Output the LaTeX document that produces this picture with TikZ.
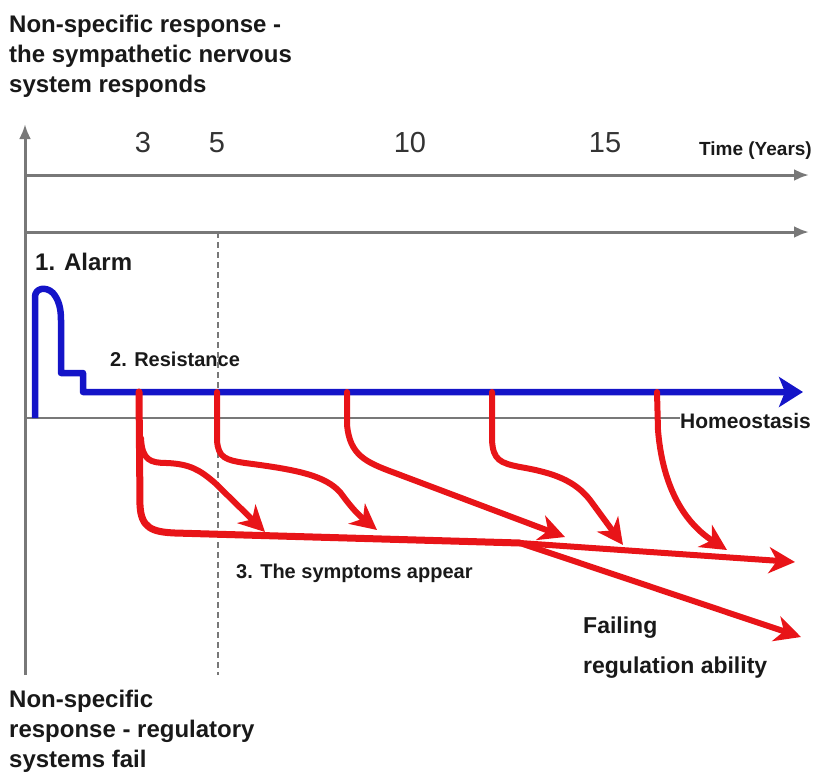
\documentclass[tikz,border=0pt]{standalone}
\usepackage{fontspec}
\setmainfont{Liberation Sans}
\usetikzlibrary{arrows.meta}

\definecolor{axisgray}{RGB}{120,120,120}
\definecolor{curvered}{RGB}{232,20,24}
\definecolor{curveblue}{RGB}{20,20,200}
\definecolor{inkblack}{RGB}{25,25,25}

\begin{document}
\begin{tikzpicture}[
  x=1pt, y=-1pt,
  every node/.style={inner sep=0pt, text=inkblack},
  lbl/.style={font=\bfseries\fontsize{24}{30}\selectfont, align=left},
  midlbl/.style={font=\bfseries\fontsize{20}{24}\selectfont},
  yearlbl/.style={font=\fontsize{29}{32}\selectfont, text=black!80},
  axis/.style={draw=axisgray, line width=3pt, -{Latex[length=15pt,width=12pt]}},
  yearline/.style={draw=axisgray, line width=2.4pt, dash pattern=on 6pt off 4pt},
  homeo/.style={draw=curveblue, line width=6.5pt, line join=round, -{Stealth[length=24pt,width=30pt,inset=6pt]}},
  symp/.style={draw=curvered, line width=6pt, line join=round, line cap=round, -{Stealth[length=26pt,width=26pt,inset=8pt]}}
]
\useasboundingbox (0,0) rectangle (814,772);

\node[lbl, anchor=base west] (sympnote) at (9,92) {Non-specific response -\\the sympathetic nervous\\system responds};
\node[lbl, anchor=base west] (failnote) at (9,767) {Non-specific\\response - regulatory\\systems fail};

\node[yearlbl, anchor=base] (y3) at (143,152) {3};
\node[yearlbl, anchor=base] (y5) at (217,152) {5};
\node[yearlbl, anchor=base] (y10) at (410,152) {10};
\node[yearlbl, anchor=base] (y15) at (605,152) {15};
\node[font=\bfseries\fontsize{19}{22}\selectfont, anchor=base east] (time) at (812,155) {Time (Years)};

\node[lbl, anchor=base west] (alarm) at (35,270) {1. Alarm};
\node[midlbl, anchor=base west] (resist) at (110,366) {2. Resistance};
\node[font=\bfseries\fontsize{21}{24}\selectfont, anchor=base west] (homeostasis) at (680,428) {Homeostasis};
\node[midlbl, anchor=base west] (symptoms) at (236,578) {3. The symptoms appear};
\node[font=\bfseries\fontsize{23}{40}\selectfont, align=left, anchor=base west] (failing) at (583,673) {Failing\\regulation ability};

\coordinate (origin) at (25,675);
\coordinate (ytop) at (25,124);
\coordinate (axis1) at (25,175);
\coordinate (axis1end) at (809,175);
\coordinate (axis2) at (25,232);
\coordinate (axis2end) at (809,232);
\coordinate (base) at (25,418);
\coordinate (five) at (218,232);
\coordinate (fivelow) at (218,675);

\draw[axis] (origin) -- (ytop);
\draw[axis] (axis1) -- (axis1end);
\draw[axis] (axis2) -- (axis2end);
\draw[draw=axisgray, line width=2.4pt] (base) -- (homeostasis.west |- base);
\draw[yearline] (five) -- (fivelow);

\coordinate (onset) at (35,418);
\coordinate (homend) at (803,392);
\draw[homeo] (onset) -- (35,297) .. controls (35,288) and (46,286) .. (53,293) .. controls (59,300) and (61,309) .. (61,320) -- (61,373) -- (83,373) -- (83,392) -- (homend);

\coordinate (b3) at (139,392);
\coordinate (b5) at (217,392);
\coordinate (b8) at (347,392);
\coordinate (b12) at (492,392);
\coordinate (b16) at (657,392);
\coordinate (k3) at (141,438);
\coordinate (split) at (520,543);
\coordinate (t3) at (265,532);
\coordinate (t5) at (377,530);
\coordinate (t8) at (565,537);
\coordinate (t12) at (623,545);
\coordinate (t16) at (727,550);
\coordinate (tmain) at (795,562);
\coordinate (tfail) at (801,637);

\draw[symp, -, line width=7pt] (b3) -- (140,505) .. controls (141,528) and (152,532) .. (175,533) -- (split);
\draw[symp] (split) -- (tmain);
\draw[symp] (split) -- (tfail);
\draw[symp] (k3) .. controls (142,460) and (150,463) .. (167,463) .. controls (190,464) and (200,470) .. (215,483) -- (t3);
\draw[symp] (b5) -- (217,440) .. controls (218,458) and (226,460) .. (245,463) .. controls (300,470) and (325,476) .. (340,492) .. controls (348,503) and (356,513) .. (t5);
\draw[symp] (b8) -- (347,425) .. controls (350,455) and (365,462) .. (395,473) -- (t8);
\draw[symp] (b12) -- (492,440) .. controls (493,460) and (500,463) .. (520,467) .. controls (555,473) and (575,481) .. (590,500) -- (t12);
\draw[symp] (b16) -- (658,430) .. controls (662,480) and (680,520) .. (t16);
\end{tikzpicture}
\end{document}
